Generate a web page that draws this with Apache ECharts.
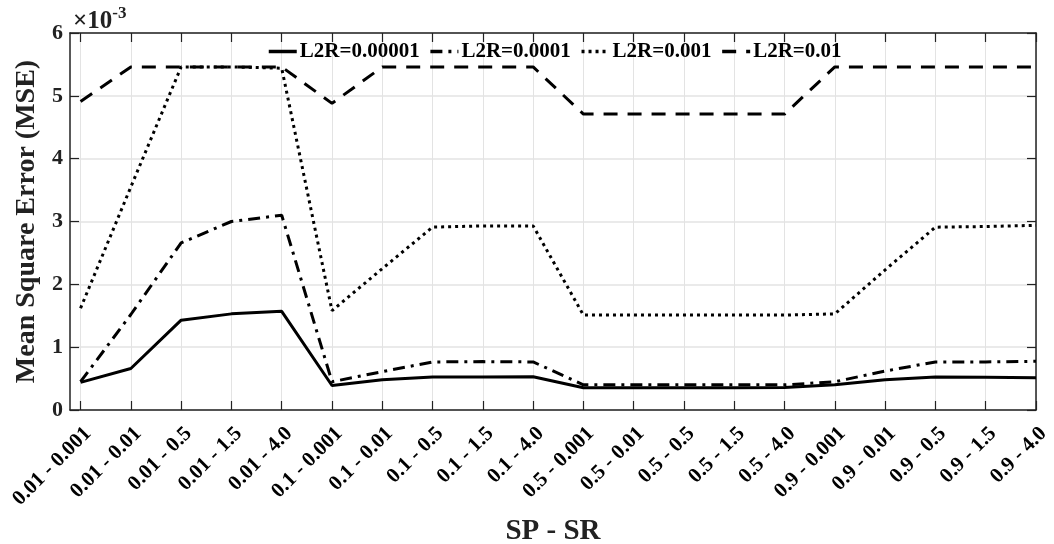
<!DOCTYPE html>
<html>
<head>
<meta charset="UTF-8">
<title>MSE vs SP - SR</title>
<script src="https://cdn.jsdelivr.net/npm/echarts@6/dist/echarts.min.js"></script>
</head>
<body style="margin:0">
<div id="main" style="width:1054px;height:544px;"></div>
<script>
	var categories = ['0.01 - 0.001','0.01 - 0.01','0.01 - 0.5','0.01 - 1.5','0.01 - 4.0',
		'0.1 - 0.001','0.1 - 0.01','0.1 - 0.5','0.1 - 1.5','0.1 - 4.0',
		'0.5 - 0.001','0.5 - 0.01','0.5 - 0.5','0.5 - 1.5','0.5 - 4.0',
		'0.9 - 0.001','0.9 - 0.01','0.9 - 0.5','0.9 - 1.5','0.9 - 4.0'];
	var seriesNames = ['L2R=0.00001','L2R=0.0001','L2R=0.001','L2R=0.01'];
	// values in units of 1e-3
	var mse00001 = [0.44,0.66,1.43,1.53,1.57, 0.39,0.48,0.525,0.525,0.53, 0.355,0.355,0.355,0.355,0.36, 0.40,0.48,0.525,0.52,0.515];
	var mse0001  = [0.45,1.52,2.66,3.00,3.10, 0.45,0.61,0.765,0.77,0.765, 0.40,0.40,0.40,0.40,0.40, 0.45,0.62,0.765,0.765,0.775];
	var mse001   = [1.62,3.55,5.46,5.46,5.44, 1.58,2.25,2.91,2.93,2.93, 1.51,1.51,1.51,1.51,1.51, 1.53,2.23,2.91,2.92,2.94];
	var mse01    = [4.91,5.46,5.46,5.46,5.46, 4.88,5.46,5.46,5.46,5.46, 4.71,4.71,4.71,4.71,4.71, 5.46,5.46,5.46,5.46,5.46];
	var yTicks = [0,1,2,3,4,5,6];

	var font = 'Liberation Serif';
	var idx = categories.map(function(c, i){ return i; });

	function pairs(arr){
		return arr.map(function(v, i){ return [i, v]; });
	}

	var styles = [
		{type: 'solid', width: 3},
		{type: [12, 6, 3, 6], width: 3},
		{type: [3, 4], width: 3},
		{type: [14, 10], width: 3}
	];
	var allData = [mse00001, mse0001, mse001, mse01];
	var series = [];
	for (var s = 0; s < allData.length; s++) {
		series.push({
			name: seriesNames[s],
			type: 'line',
			data: pairs(allData[s]),
			symbol: 'none',
			showSymbol: false,
			color: '#000',
			lineStyle: {color: '#000', width: styles[s].width, type: styles[s].type}
		});
	}

	var myChart = echarts.init(document.getElementById('main'));
	var option = {
		animation: false,
		backgroundColor: '#fff',
		title: {
			text: '{a|×10}{b|-3}',
			left: 68, top: 0,
			textStyle: {
				rich: {
					a: {fontFamily: font, fontSize: 25, color: '#222', verticalAlign: 'bottom'},
					b: {fontFamily: font, fontSize: 17, color: '#222', verticalAlign: 'top', padding: [0, 0, 12, 0]}
				}
			}
		},
		legend: {
			top: 36, left: 262,
			itemWidth: 28, itemHeight: 14, itemGap: 9,
			itemStyle: {opacity: 0},
			lineStyle: {width: 3.5},
			textStyle: {fontFamily: font, fontSize: 21, fontWeight: 'bold', color: '#000', padding: [0, 0, 0, -2]},
			data: seriesNames
		},
		grid: {left: 70, right: 18, top: 33, bottom: 134, outerBoundsMode: 'none'},
		xAxis: [{
			type: 'value', min: -0.21, max: 19,
			name: 'SP - SR', nameLocation: 'middle', nameGap: 97,
			nameTextStyle: {fontFamily: font, fontSize: 29, fontWeight: 'bold', color: '#222'},
			axisLine: {show: true, onZero: false, lineStyle: {color: '#222', width: 1.5}},
			axisTick: {show: true, inside: true, length: 9, customValues: idx, lineStyle: {color: '#222', width: 1.2}},
			axisLabel: {
				customValues: idx, rotate: 45, margin: 13, verticalAlign: 'top',
				fontFamily: font, fontSize: 21, fontWeight: 'bold', color: '#000',
				formatter: function(v){ return categories[Math.round(v)]; }
			},
			splitLine: {show: true, lineStyle: {color: '#e3e3e3', width: 1}}
		}, {
			type: 'value', min: -0.21, max: 19, position: 'top',
			axisLine: {show: true, onZero: false, lineStyle: {color: '#222', width: 1.5}},
			axisTick: {show: true, inside: true, length: 9, customValues: idx, lineStyle: {color: '#222', width: 1.2}},
			axisLabel: {show: false},
			splitLine: {show: false}
		}],
		yAxis: [{
			type: 'value', min: 0, max: 6, interval: 1,
			name: 'Mean Square Error (MSE)', nameLocation: 'middle', nameGap: 25,
			nameTextStyle: {fontFamily: font, fontSize: 28, fontWeight: 'bold', color: '#222'},
			axisLine: {show: true, onZero: false, lineStyle: {color: '#222', width: 1.5}},
			axisTick: {show: true, inside: true, length: 9, lineStyle: {color: '#222', width: 1.2}},
			axisLabel: {fontFamily: font, fontSize: 22, fontWeight: 'bold', color: '#222', margin: 7,
				formatter: function(v){ return yTicks.indexOf(v) >= 0 ? String(v) : ''; }},
			splitLine: {show: true, lineStyle: {color: '#e3e3e3', width: 1.5}}
		}, {
			type: 'value', min: 0, max: 6, interval: 1, position: 'right',
			axisLine: {show: true, onZero: false, lineStyle: {color: '#222', width: 1.5}},
			axisTick: {show: true, inside: true, length: 9, lineStyle: {color: '#222', width: 1.2}},
			axisLabel: {show: false},
			splitLine: {show: false}
		}],
		series: series
	};
	myChart.setOption(option);
</script>
</body>
</html>
